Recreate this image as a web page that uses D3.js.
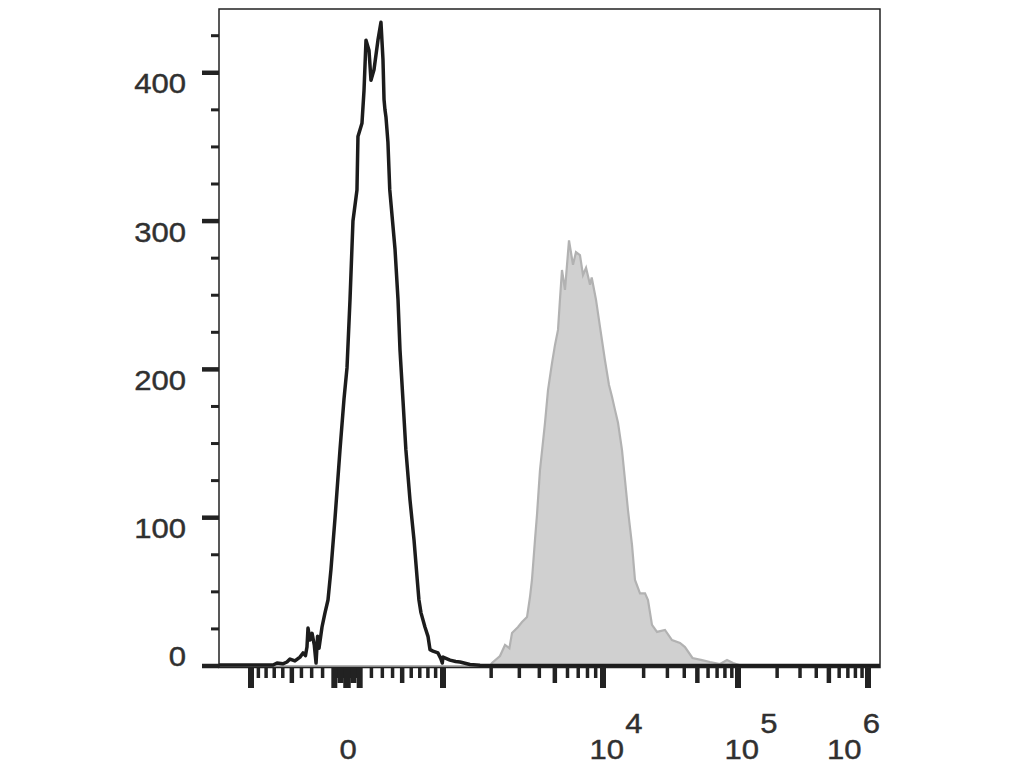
<!DOCTYPE html>
<html><head><meta charset="utf-8">
<script src="https://cdn.jsdelivr.net/npm/d3@7"></script>
<style>body{margin:0;background:#fff} svg{display:block}</style>
</head><body><svg id="c" width="1020" height="765"></svg>
<script>
// ---- data (fluorescence value, event count) ----
const blackX = [-1500,-714,-667,-600,-553,-520,-467,-415,-384,-360,-345,-335,-316,-296,-275,-259,-245,-232,-205,-179,-153,-128,-94,-54,-23,0,23,46,78,86,119,136,153,179,196,223,259,287,306,316,325,335,344,354,372,425,456,477,509,540,586,632,670,690,714,763,801,827,865,931,970,990,1000,1106,1200,1277,1474,1703,2500,1250000];
const blackY = [0.7,0.7,2,1.5,2.7,4.7,3.4,6,8.8,7,12.8,25.6,17.5,22,14,2,20,12,26.3,35.8,44.5,65,100,146,180,201,247,300,321,357,366,388,422,415,395,402,422,434,409,382,375,370,362,353,321,281,247,213,179,146,112,85,58,44.5,36,26.3,20,11,10,8.8,5,2,6,4,3,2.7,1,0.5,0.3,0.3];
const grayX = [-1500,1967,2024,2270,2441,2600,2700,2944,3118,3350,3497,3597,3758,3868,4037,4340,4532,4797,5012,5233,5383,5541,5787,6131,6494,6776,7178,7499,7834,8298,8500,9040,9576,10347,11076,11660,12270,12915,13823,14550,15317,16400,17260,18800,20480,21540,23060,25120,28770,32430,37170,40480,46010,54080,62060,73580,82940,91900,103600,120000,1250000];
const grayY = [0,0,2,6.7,14.2,12,22.3,26.3,29.7,33,46.5,58,85,102,132,164,186,204,216.5,226.6,247,267,253.6,287,270.5,279,277,263.7,268.5,257,262,247,228.7,206,189.5,181.5,172.7,164,145.7,125.5,105,81.6,58,49,49,44.5,27.7,23,24.3,17.5,15.5,12.8,5.4,4,2.7,1.3,4,2,0.5,0,0];
const yTickValues = [0,100,200,300,400];
const xLabelValues = [0, 1e4, 1e5, 1e6];
const xLabelBase = ["0","10","10","10"];
const xLabelExp = ["","4","5","6"];
const xMajor = [-1000,-100,0,100,1000,1e4,1e5,1e6];
const xMedium = [-500,-50,50,500,5000,5e4,5e5];

// ---- layout ----
const svg = d3.select("#c");
const L=219, T=9, R=880, B=666;
const W=R-L, H=B-T;
const ink = "#222";

const y = d3.scaleLinear().domain([0,443]).range([H,0]);
const xSym = d3.scaleSymlog().constant(1200).domain([-1000,1000]).range([32,224]);
const xLog = d3.scaleLog().domain([1e3,1e4,1e5,1e6]).range([224,384,519,649]);
const x = v => v > 1000 ? xLog(v) : xSym(v);

const black = blackX.map((v,i)=>[v,blackY[i]]);
const gray = grayX.map((v,i)=>[v,grayY[i]]);

svg.append("defs").append("clipPath").attr("id","clip")
  .append("rect").attr("x",0).attr("y",-2).attr("width",W).attr("height",H+5);

const g = svg.append("g").attr("transform",`translate(${L},${T})`);
const plot = g.append("g").attr("clip-path","url(#clip)");

plot.append("path").datum(gray)
  .attr("d", d3.area().x(d=>x(d[0])).y0(y(0)).y1(d=>y(d[1])))
  .attr("fill","#d0d0d0");
plot.append("path").datum(gray)
  .attr("d", d3.line().x(d=>x(d[0])).y(d=>y(d[1])))
  .attr("fill","none").attr("stroke","#b2b2b2").attr("stroke-width",2.2);

// frame
g.append("rect").attr("x",0).attr("y",0).attr("width",W).attr("height",H+1.5)
  .attr("fill","none").attr("stroke",ink).attr("stroke-width",1.5);

plot.append("path").datum(black)
  .attr("d", d3.line().x(d=>x(d[0])).y(d=>y(d[1])))
  .attr("fill","none").attr("stroke","#1c1c1c").attr("stroke-width",3.5)
  .attr("stroke-linejoin","round");

// y ticks
const yMinor = d3.range(25, 443, 25).filter(v => v % 100 !== 0);
g.selectAll(".ymaj").data(yTickValues).join("line")
  .attr("x1",-17).attr("x2",0).attr("y1",d=>y(d)).attr("y2",d=>y(d))
  .attr("stroke",ink).attr("stroke-width",4.5);
g.selectAll(".ymin").data(yMinor).join("line")
  .attr("x1",-8).attr("x2",0).attr("y1",d=>y(d)).attr("y2",d=>y(d))
  .attr("stroke",ink).attr("stroke-width",3);

// x ticks
let xMinor = [];
for (let k=1;k<=9;k++){
  xMinor.push(-100*k, -10*k, 10*k, 100*k, 1000*k, 1e4*k, 1e5*k);
}
xMinor = xMinor.filter(v => !xMajor.includes(v) && !xMedium.includes(v));
const tickTop = H+2;
function drawTicks(vals, len, w){
  g.append("g").selectAll("line").data(vals).join("line")
    .attr("x1",d=>x(d)).attr("x2",d=>x(d))
    .attr("y1",tickTop).attr("y2",tickTop+len)
    .attr("stroke",ink).attr("stroke-width",d => Math.abs(d) < 100 ? w + 1.5 : w);
}
drawTicks(xMinor, 10, 3.5);
drawTicks(xMedium, 15, 4.5);
drawTicks(xMajor, 20, 6);

// labels
const font = "'Liberation Sans', Arial, sans-serif";
const sx = 1.15;
const fs = 27;
function styleText(t){
  return t.attr("font-family",font).attr("font-size",fs).attr("fill","#303030")
    .attr("stroke","#303030").attr("stroke-width",0.4);
}
yTickValues.forEach(v=>{
  const ty = T + y(v) + (v===0 ? 0 : 20.5);
  styleText(svg.append("g").attr("transform",`translate(186,${ty}) scale(${sx},1)`)
    .append("text").attr("text-anchor","end")).text(v);
});
xLabelValues.forEach((v,i)=>{
  let cx = L + x(v) + (i===0 ? 1 : 13);
  let anchor = "middle";
  if (i === xLabelValues.length-1) { cx = R; anchor = "end"; }
  const t = styleText(svg.append("g").attr("transform",`translate(${cx},759) scale(${sx},1)`)
    .append("text").attr("text-anchor",anchor));
  t.append("tspan").text(xLabelBase[i]);
  if (xLabelExp[i]) t.append("tspan").attr("dy",-26).attr("dx",1).text(xLabelExp[i]);
});
</script></body></html>
